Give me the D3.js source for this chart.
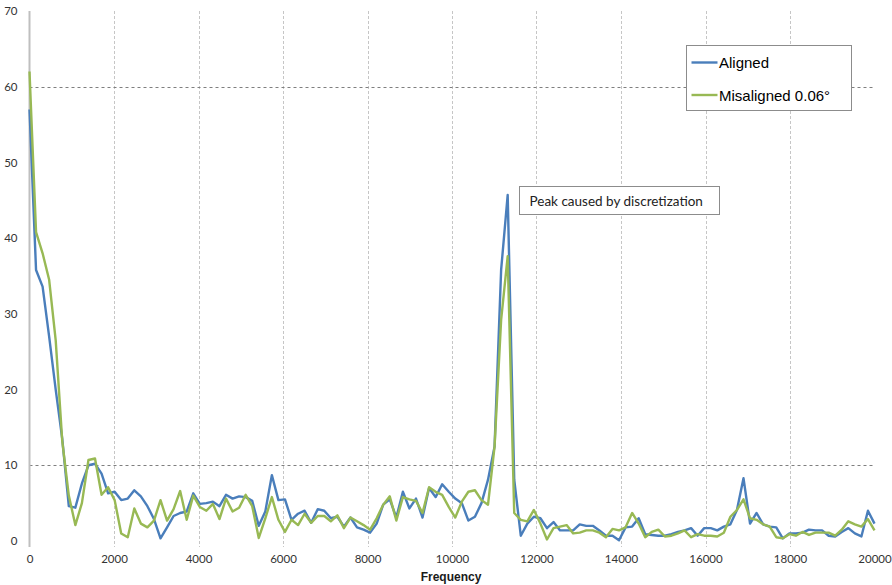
<!DOCTYPE html>
<html>
<head>
<meta charset="utf-8">
<script src="https://cdn.jsdelivr.net/npm/d3@7/dist/d3.min.js"></script>
<style>
  html, body { margin: 0; padding: 0; background: #ffffff; }
  svg { display: block; }
</style>
</head>
<body>
<svg id="chart" width="892" height="585"></svg>
<script>
// Spectrum magnitudes, one value per frequency bin (0 .. 20000 Hz, 130 bins)
const aligned = [
  57, 35.8, 33.6, 27, 20, 13.5, 4.6, 4.4, 7.6, 10.0,
  10.2, 8.9, 6.3, 6.5, 5.4, 5.6, 6.7, 5.9, 4.6, 2.9,
  0.35, 1.8, 3.3, 3.7, 3.9, 6.3, 4.9, 5.0, 5.2, 4.6,
  6.1, 5.6, 5.9, 5.8, 5.3, 2.0, 3.9, 8.7, 5.4, 5.5,
  2.8, 3.6, 4.0, 2.4, 4.2, 4.0, 3.0, 3.2, 1.9, 3.1,
  1.8, 1.5, 1.1, 2.3, 4.8, 5.5, 3.1, 6.5, 4.3, 5.6,
  3.1, 7.0, 5.8, 7.5, 6.5, 5.6, 5.0, 2.7, 3.2, 5.0,
  8.1, 12.5, 35.8, 45.7, 8.1, 0.7, 2.3, 3.2, 3.0, 1.7,
  2.5, 1.4, 1.4, 1.4, 2.2, 2.0, 2.0, 1.4, 0.7, 0.7,
  0.1, 1.8, 1.9, 3.0, 0.9, 0.8, 0.7, 0.7, 0.9, 1.2,
  1.4, 1.7, 0.7, 1.7, 1.7, 1.4, 1.9, 2.2, 4.1, 8.3,
  2.3, 3.7, 2.2, 1.9, 1.8, 0.35, 1.0, 1.0, 1.1, 1.5,
  1.4, 1.4, 0.7, 0.6, 1.2, 1.7, 1.0, 0.6, 4.0, 2.3
];
const misaligned = [
  62, 40.8, 38.0, 34.5, 26.5, 13.2, 6.0, 2.1, 5.0, 10.7,
  10.9, 6.1, 7.1, 5.4, 1.0, 0.5, 4.3, 2.3, 1.8, 2.7,
  5.4, 2.7, 4.2, 6.6, 2.8, 6.0, 4.5, 4.0, 4.9, 2.9,
  5.6, 3.9, 4.4, 6.1, 4.6, 0.4, 3.0, 5.8, 2.8, 1.2,
  2.8, 2.1, 3.6, 2.4, 3.3, 3.3, 2.6, 3.4, 1.7, 3.1,
  2.6, 2.1, 1.5, 3.0, 4.8, 5.9, 2.7, 5.8, 5.5, 5.3,
  3.7, 7.1, 6.5, 6.1, 4.5, 3.1, 5.2, 6.5, 6.7, 5.4,
  4.8, 12.5, 29.2, 37.6, 3.7, 2.8, 2.6, 4.1, 2.3, 0.2,
  1.7, 1.9, 2.1, 1.0, 1.1, 1.4, 1.4, 1.1, 0.5, 1.6,
  1.4, 1.8, 3.7, 2.3, 0.5, 1.2, 1.5, 0.6, 0.7, 1.0,
  1.4, 0.5, 0.9, 0.7, 0.7, 0.6, 1.1, 3.2, 4.1, 5.5,
  3.0, 2.8, 2.2, 1.9, 0.5, 0.35, 0.9, 0.7, 1.2, 0.8,
  1.1, 1.1, 1.1, 0.7, 1.5, 2.6, 2.2, 1.9, 2.9, 1.4
];

const seriesNames = ["Aligned", "Misaligned 0.06\u00b0"];
const seriesColors = ["#4a7ebb", "#98b954"];
const xTicks = [0, 2000, 4000, 6000, 8000, 10000, 12000, 14000, 16000, 18000, 20000];
const yTicks = [0, 10, 20, 30, 40, 50, 60, 70];
const yGridValues = [10, 60];
const xGridValues = [2000, 4000, 6000, 8000, 10000, 12000, 14000, 16000, 18000];
const xTitle = "Frequency";
const noteText = "Peak caused by discretization";

const maxFreq = 20000;
const binWidth = maxFreq / (aligned.length - 1);

const svg = d3.select("#chart");
const x = d3.scaleLinear().domain([0, maxFreq]).range([29.5, 874.5]);
const y = d3.scaleLinear().domain([0, 70]).range([541, 11]);

// vertical grid
svg.append("g")
  .selectAll("line")
  .data(xGridValues)
  .join("line")
  .attr("x1", d => Math.round(x(d)) + 0.5)
  .attr("x2", d => Math.round(x(d)) + 0.5)
  .attr("y1", y(70))
  .attr("y2", y(0) + 6)
  .attr("stroke", "#c6c6c6")
  .attr("stroke-width", 1)
  .attr("stroke-dasharray", "3,2");

// horizontal grid
svg.append("g")
  .selectAll("line")
  .data(yGridValues)
  .join("line")
  .attr("x1", x(0))
  .attr("x2", x(maxFreq))
  .attr("y1", d => Math.round(y(d)) + 0.5)
  .attr("y2", d => Math.round(y(d)) + 0.5)
  .attr("stroke", "#7f7f7f")
  .attr("stroke-width", 1)
  .attr("stroke-dasharray", "3,3");

// y axis
const yAxis = svg.append("g")
  .attr("transform", `translate(${x(0)},0)`)
  .call(d3.axisLeft(y).tickValues(yTicks).tickSize(0).tickPadding(12).tickFormat(d3.format("d")));
yAxis.select(".domain")
  .attr("stroke", "#bfbfbf")
  .attr("stroke-width", 2)
  .attr("d", `M0,${y(70)}V${y(0) + 6}`);
yAxis.selectAll("text")
  .attr("font-family", "Lato, 'Open Sans', sans-serif")
  .attr("font-size", 11.5)
  .attr("fill", "#333333");

// x axis
const xAxis = svg.append("g")
  .attr("transform", `translate(0,${y(0)})`)
  .call(d3.axisBottom(x).tickValues(xTicks).tickSize(0).tickPadding(14).tickFormat(d3.format("d")));
xAxis.select(".domain").remove();
xAxis.selectAll("text")
  .attr("font-family", "Lato, 'Open Sans', sans-serif")
  .attr("font-size", 11.5)
  .attr("fill", "#333333");

// x axis title
svg.append("text")
  .attr("x", 451)
  .attr("y", 581)
  .attr("text-anchor", "middle")
  .attr("font-family", "'Liberation Sans', Arial, sans-serif")
  .attr("font-weight", "bold")
  .attr("font-size", 12)
  .attr("fill", "#1a1a1a")
  .text(xTitle);

// spectrum lines
const line = d3.line()
  .x((d, i) => x(i * binWidth))
  .y(d => y(d));

[aligned, misaligned].forEach((series, s) => {
  svg.append("path")
    .datum(series)
    .attr("fill", "none")
    .attr("stroke", seriesColors[s])
    .attr("stroke-width", 2.4)
    .attr("stroke-linejoin", "round")
    .attr("d", line);
});

// annotation box
const note = svg.append("g").attr("transform", "translate(519.5,186.5)");
note.append("rect")
  .attr("width", 200)
  .attr("height", 28)
  .attr("fill", "#ffffff")
  .attr("stroke", "#8c8c8c")
  .attr("stroke-width", 1);
note.append("text")
  .attr("x", 10)
  .attr("y", 19)
  .attr("font-family", "Lato, 'Open Sans', sans-serif")
  .attr("font-size", 13.5)
  .attr("fill", "#222222")
  .text(noteText);

// legend
const legend = svg.append("g").attr("transform", "translate(686.5,45.5)");
legend.append("rect")
  .attr("width", 165)
  .attr("height", 65)
  .attr("fill", "#ffffff")
  .attr("stroke", "#8c8c8c")
  .attr("stroke-width", 1);
seriesNames.forEach((name, i) => {
  const row = legend.append("g").attr("transform", `translate(0,${17 + i * 32.5})`);
  row.append("line")
    .attr("x1", 5).attr("x2", 31)
    .attr("y1", 0).attr("y2", 0)
    .attr("stroke", seriesColors[i])
    .attr("stroke-width", 2.4);
  row.append("text")
    .attr("x", 32.5)
    .attr("y", 5.5)
    .attr("font-family", "'Liberation Sans', Arial, sans-serif")
    .attr("font-size", 15)
    .attr("fill", "#000000")
    .text(name);
});
</script>
</body>
</html>
